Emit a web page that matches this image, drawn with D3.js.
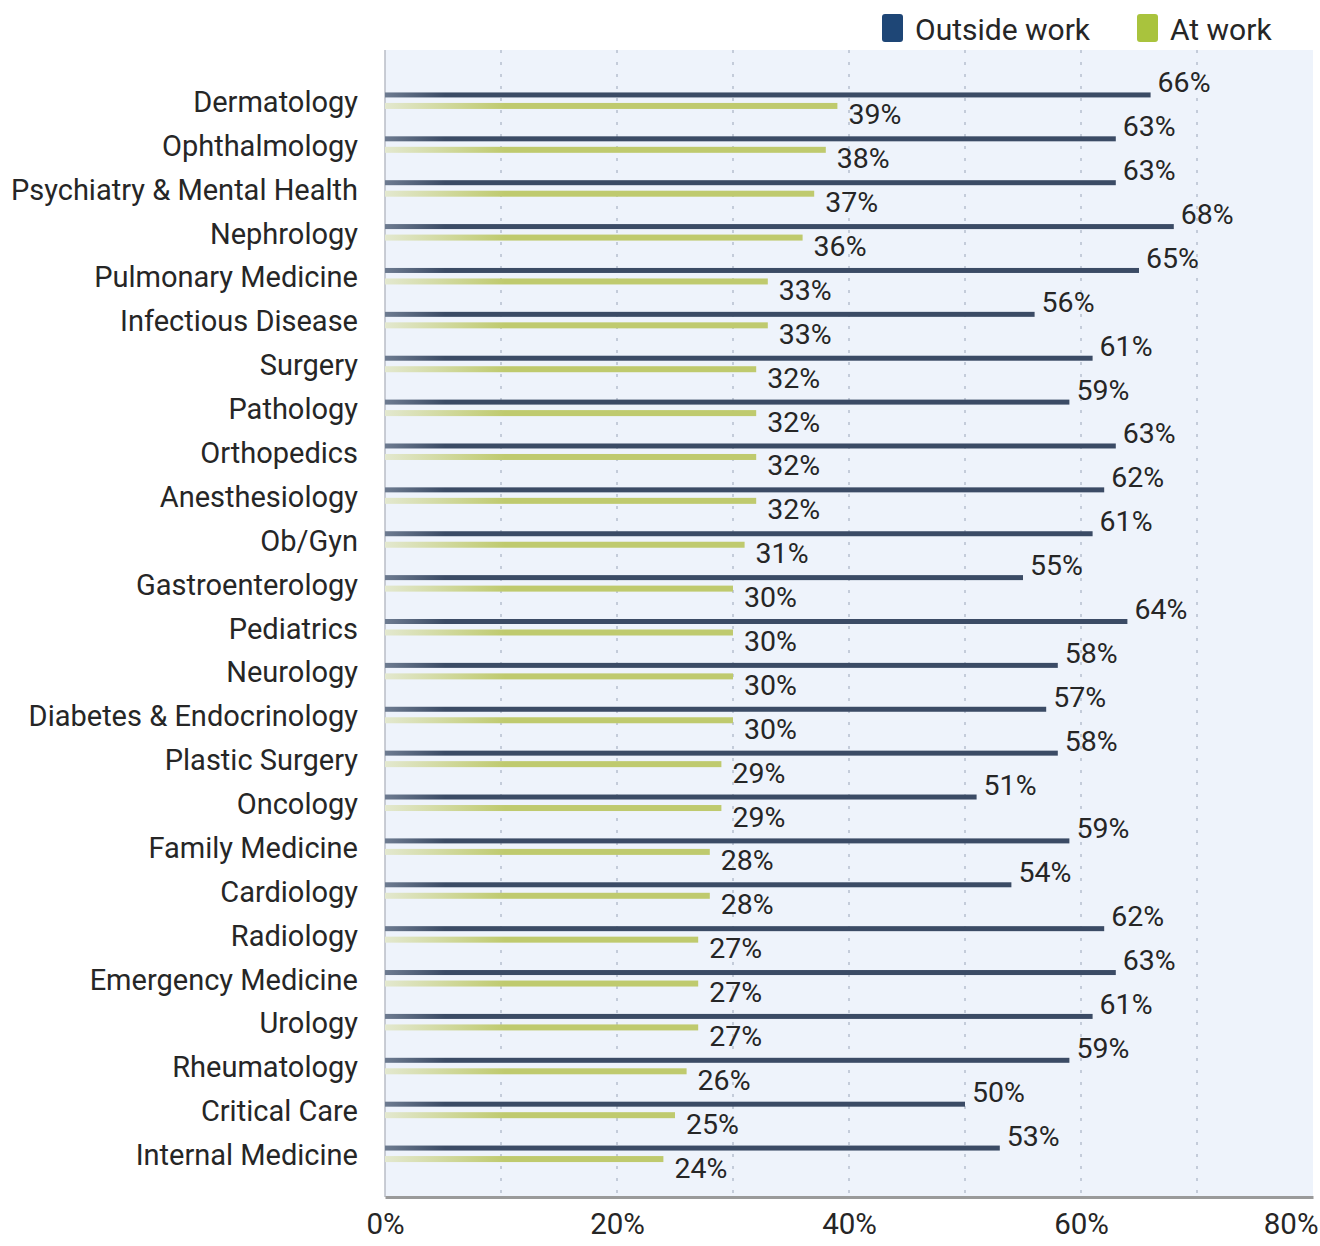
<!DOCTYPE html>
<html>
<head>
<meta charset="utf-8">
<script src="https://cdn.jsdelivr.net/npm/d3@7"></script>
<style>
  html, body { margin: 0; padding: 0; background: #fff; }
  svg { display: block; }
  text { font-family: Roboto, "Noto Sans", sans-serif; fill: #262626; }
</style>
</head>
<body>
<svg id="chart" width="1320" height="1246"></svg>
<script>
// Specialties, top to bottom
const categories = [
  "Dermatology", "Ophthalmology", "Psychiatry & Mental Health", "Nephrology",
  "Pulmonary Medicine", "Infectious Disease", "Surgery", "Pathology",
  "Orthopedics", "Anesthesiology", "Ob/Gyn", "Gastroenterology", "Pediatrics",
  "Neurology", "Diabetes & Endocrinology", "Plastic Surgery", "Oncology",
  "Family Medicine", "Cardiology", "Radiology", "Emergency Medicine",
  "Urology", "Rheumatology", "Critical Care", "Internal Medicine"
];
// Share of physicians (%) happy outside work
const outsideWork = [66, 63, 63, 68, 65, 56, 61, 59, 63, 62, 61, 55, 64, 58, 57, 58, 51, 59, 54, 62, 63, 61, 59, 50, 53];
// Share of physicians (%) happy at work
const atWork = [39, 38, 37, 36, 33, 33, 32, 32, 32, 32, 31, 30, 30, 30, 30, 29, 29, 28, 28, 27, 27, 27, 26, 25, 24];
const xTicks = [0, 20, 40, 60, 80];
const gridValues = [10, 20, 30, 40, 50, 60, 70];
const seriesNames = ["Outside work", "At work"];

const svg = d3.select("#chart");
const plot = { left: 385, right: 1313, top: 50, bottom: 1197 };

const x = d3.scaleLinear().domain([0, 80]).range([plot.left, plot.right]);
const y = d3.scaleBand().domain(categories).range([78, 1175]).padding(0);
const mid = c => y(c) + y.bandwidth() / 2;

const defs = svg.append("defs");
const gGreen = defs.append("linearGradient").attr("id", "greenFade")
  .attr("gradientUnits", "userSpaceOnUse")
  .attr("x1", plot.left).attr("x2", plot.left + 120).attr("y1", 0).attr("y2", 0);
gGreen.append("stop").attr("offset", 0).attr("stop-color", "#e3e8cf");
gGreen.append("stop").attr("offset", 1).attr("stop-color", "#bfca6e");
const gDark = defs.append("linearGradient").attr("id", "darkFade")
  .attr("gradientUnits", "userSpaceOnUse")
  .attr("x1", plot.left).attr("x2", plot.left + 60).attr("y1", 0).attr("y2", 0);
gDark.append("stop").attr("offset", 0).attr("stop-color", "#6d7b90");
gDark.append("stop").attr("offset", 1).attr("stop-color", "#3b4b65");

// Plot background
svg.append("rect")
  .attr("x", plot.left).attr("y", plot.top)
  .attr("width", plot.right - plot.left).attr("height", plot.bottom - plot.top)
  .attr("fill", "#eef3fb");

// Dotted vertical gridlines every 10%
svg.append("g").selectAll("line").data(gridValues).join("line")
  .attr("x1", d => x(d)).attr("x2", d => x(d))
  .attr("y1", plot.top).attr("y2", plot.bottom)
  .attr("stroke", "#a9b3c4").attr("stroke-width", 1.2)
  .attr("stroke-dasharray", "3,9");

// Left axis line
svg.append("line")
  .attr("x1", plot.left).attr("x2", plot.left)
  .attr("y1", plot.top).attr("y2", plot.bottom)
  .attr("stroke", "#b8bdc6").attr("stroke-width", 1.5);

// Bars: outside work (dark) above, at work (green) below
const rows = categories.map((c, i) => ({ c, o: outsideWork[i], a: atWork[i] }));

svg.append("g").selectAll("rect").data(rows).join("rect")
  .attr("x", plot.left).attr("y", d => mid(d.c) - 5 - 2.5)
  .attr("width", d => x(d.o) - plot.left).attr("height", 5)
  .attr("fill", "url(#darkFade)");

svg.append("g").selectAll("rect").data(rows).join("rect")
  .attr("x", plot.left).attr("y", d => mid(d.c) + 6 - 3)
  .attr("width", d => x(d.a) - plot.left).attr("height", 6)
  .attr("fill", "url(#greenFade)");

// Value labels
svg.append("g").selectAll("text").data(rows).join("text")
  .attr("x", d => x(d.o) + 7).attr("y", d => mid(d.c) - 17)
  .attr("dominant-baseline", "central")
  .attr("font-size", 28.5).text(d => d.o + "%");

svg.append("g").selectAll("text").data(rows).join("text")
  .attr("x", d => x(d.a) + 11).attr("y", d => mid(d.c) + 15)
  .attr("dominant-baseline", "central")
  .attr("font-size", 28.5).text(d => d.a + "%");

// Category labels
svg.append("g").selectAll("text").data(categories).join("text")
  .attr("x", 358).attr("y", d => mid(d) + 2)
  .attr("text-anchor", "end").attr("dominant-baseline", "central")
  .attr("font-size", 29).text(d => d);

// Bottom axis
const xAxis = d3.axisBottom(x).tickValues(xTicks).tickFormat(d => d + "%").tickSize(0).tickPadding(16);
const axisG = svg.append("g").attr("transform", `translate(0,${plot.bottom})`).call(xAxis);
axisG.select(".domain").attr("stroke", "#9a9a9a").attr("stroke-width", 3);
axisG.selectAll("text").attr("font-size", 29.5).attr("fill", "#262626")
  .attr("font-family", "Roboto, 'Noto Sans', sans-serif");
// keep the last tick label inside the page edge
axisG.selectAll(".tick").filter(d => d === 80).select("text")
  .attr("text-anchor", "end").attr("dx", 5);

// Legend
const legend = svg.append("g");
const legendItems = [
  { name: seriesNames[0], color: "#1e4676", x: 882 },
  { name: seriesNames[1], color: "#a9c33d", x: 1137 }
];
legend.selectAll("rect").data(legendItems).join("rect")
  .attr("x", d => d.x).attr("y", 14).attr("width", 21).attr("height", 28)
  .attr("rx", 3).attr("fill", d => d.color);
legend.selectAll("text").data(legendItems).join("text")
  .attr("x", d => d.x + 33).attr("y", 29)
  .attr("dominant-baseline", "central")
  .attr("font-size", 30).text(d => d.name);
</script>
</body>
</html>
